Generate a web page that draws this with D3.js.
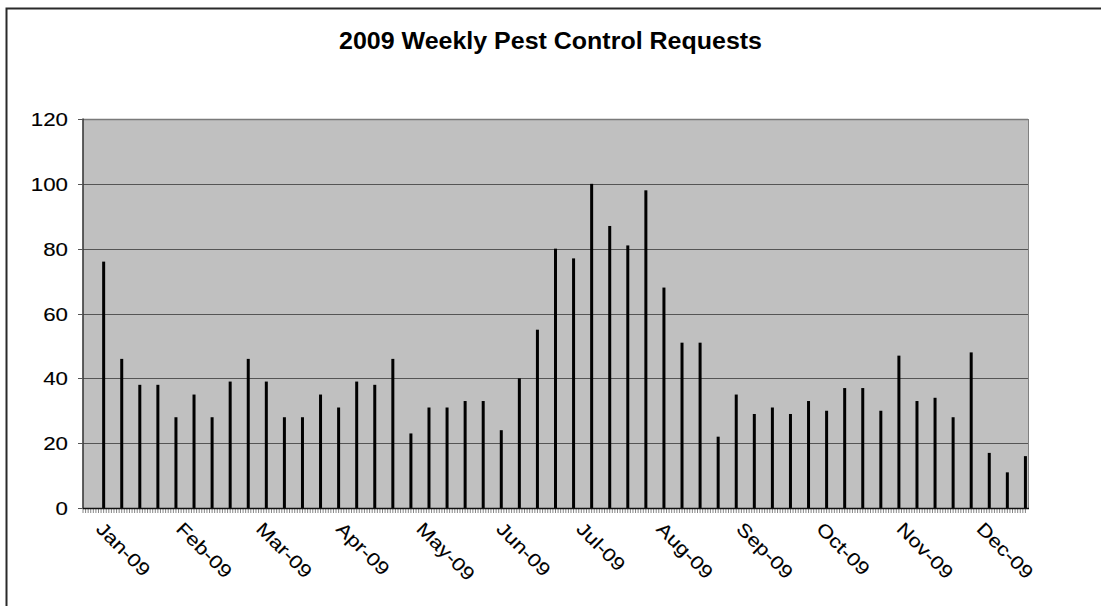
<!DOCTYPE html>
<html>
<head>
<meta charset="utf-8">
<script src="https://cdn.jsdelivr.net/npm/d3@7"></script>
<style>
  html, body { margin: 0; padding: 0; background: #fff; }
  svg { display: block; }
  text { font-family: "Liberation Sans", Arial, sans-serif; fill: #000; }
  text.ax { stroke: #000; stroke-width: 0.12; }
</style>
</head>
<body>
<div id="chart"></div>
<script>
// ---- data ----
const title = "2009 Weekly Pest Control Requests";
const firstWeek = "2009-01-09";
const requests = [76, 46, 38, 38, 28, 35, 28, 39, 46, 39, 28, 28, 35, 31, 39, 38, 46, 23, 31, 31,
                  33, 33, 24, 40, 55, 80, 77, 100, 87, 81, 98, 68, 51, 51, 22, 35, 29, 31, 29, 33,
                  30, 37, 37, 30, 47, 33, 34, 28, 48, 17, 11, 16];
const tickDates = ["2009-01-01", "2009-02-01", "2009-03-04", "2009-04-04", "2009-05-05", "2009-06-05",
                   "2009-07-06", "2009-08-06", "2009-09-06", "2009-10-07", "2009-11-07", "2009-12-08"];
const tickLabels = ["Jan-09", "Feb-09", "Mar-09", "Apr-09", "May-09", "Jun-09",
                    "Jul-09", "Aug-09", "Sep-09", "Oct-09", "Nov-09", "Dec-09"];
const yTicks = [0, 20, 40, 60, 80, 100, 120];
const domainStart = "2009-01-01", domainEnd = "2010-01-02";

// ---- layout ----
const W = 1101, H = 606;
const plot = { left: 83, right: 1028, top: 119, bottom: 508 };
const parse = d3.timeParse("%Y-%m-%d");
const start = parse(firstWeek);
const weeks = requests.map((v, i) => ({ date: d3.timeWeek.offset(start, i), value: v }));

const x = d3.scaleTime().domain([parse(domainStart), parse(domainEnd)]).range([plot.left, plot.right]);
const y = d3.scaleLinear().domain([0, 120]).range([plot.bottom, plot.top]);

const svg = d3.select("#chart").append("svg").attr("width", W).attr("height", H);

// chart border
svg.append("rect").attr("x", 6.5).attr("y", 8.5).attr("width", W + 20).attr("height", H + 20)
  .attr("fill", "#fff").attr("stroke", "#2a2a2a").attr("stroke-width", 2);

// title
svg.append("text").attr("x", 550.5).attr("y", 49).attr("text-anchor", "middle")
  .attr("font-size", 23).attr("font-weight", "bold")
  .attr("textLength", 423).attr("lengthAdjust", "spacingAndGlyphs")
  .text(title);

// plot background
svg.append("rect").attr("x", plot.left).attr("y", plot.top)
  .attr("width", plot.right - plot.left).attr("height", plot.bottom - plot.top)
  .attr("fill", "#c0c0c0");

// gridlines
svg.append("g").selectAll("line").data(yTicks.filter(t => t > 0)).join("line")
  .attr("x1", plot.left).attr("x2", plot.right)
  .attr("y1", d => Math.round(y(d)) + 0.5).attr("y2", d => Math.round(y(d)) + 0.5)
  .attr("stroke", d => d === 120 ? "#7a7a7a" : "#555").attr("stroke-width", d => d === 120 ? 1.5 : 1);

// right border of plot
svg.append("line").attr("x1", plot.right + 0.5).attr("x2", plot.right + 0.5)
  .attr("y1", plot.top).attr("y2", plot.bottom).attr("stroke", "#808080");

// y axis
const yAxis = svg.append("g");
yAxis.append("line").attr("x1", plot.left).attr("x2", plot.left)
  .attr("y1", plot.top - 0.5).attr("y2", plot.bottom).attr("stroke", "#3a3a3a").attr("stroke-width", 1.6);
yAxis.selectAll("line.tk").data(yTicks).join("line").attr("class", "tk")
  .attr("x1", plot.left - 5).attr("x2", plot.left)
  .attr("y1", d => Math.round(y(d)) + 0.5).attr("y2", d => Math.round(y(d)) + 0.5)
  .attr("stroke", "#555");
yAxis.selectAll("text").data(yTicks).join("text").attr("class", "ax")
  .attr("x", 68).attr("y", d => y(d) + 7).attr("text-anchor", "end")
  .attr("font-size", 18.5)
  .attr("textLength", d => String(d).length * 12.4).attr("lengthAdjust", "spacingAndGlyphs")
  .text(d => d);

// bars (thin columns)
svg.append("g").selectAll("rect").data(weeks).join("rect")
  .attr("x", d => x(d.date) - 1.5).attr("width", 3)
  .attr("y", d => y(d.value)).attr("height", d => y(0) - y(d.value))
  .attr("fill", "#000");

// x axis: daily minor ticks
const days = d3.timeDay.range(parse(domainStart), parse(domainEnd));
svg.append("g").selectAll("line").data(days).join("line")
  .attr("x1", d => x(d)).attr("x2", d => x(d))
  .attr("y1", plot.bottom).attr("y2", plot.bottom + 5)
  .attr("stroke", "#777").attr("stroke-width", 0.9);
svg.append("line").attr("x1", plot.left).attr("x2", plot.right + 1)
  .attr("y1", plot.bottom + 0.5).attr("y2", plot.bottom + 0.5)
  .attr("stroke", "#111").attr("stroke-width", 1.5);

// x labels rotated
svg.append("g").selectAll("text").data(tickDates).join("text").attr("class", "ax")
  .attr("transform", d => `translate(${x(parse(d)) + 12},530) rotate(45) scale(1.19,1)`)
  .attr("font-size", 18.5)
  .text((d, i) => tickLabels[i]);
</script>
</body>
</html>
